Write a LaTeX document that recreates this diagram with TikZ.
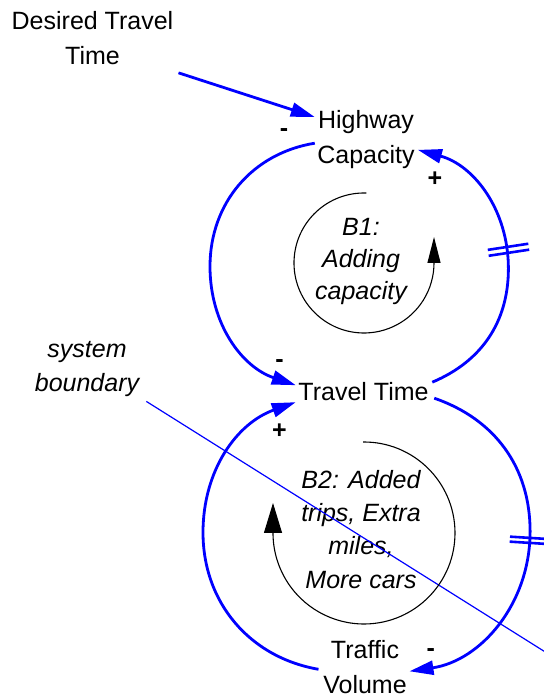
\documentclass[tikz,border=0pt]{standalone}
\usepackage{fontspec}
\setmainfont{Liberation Sans}
\usetikzlibrary{arrows.meta,calc}
\definecolor{linkblue}{RGB}{0,0,255}
\begin{document}
\begin{tikzpicture}[x=1pt,y=1pt,
  var/.style={inner sep=0pt, anchor=north, align=center,
    font=\fontsize{25}{34.5}\selectfont},
  loopnote/.style={inner sep=0pt, anchor=north, align=center,
    font=\fontsize{25}{#1}\selectfont\itshape},
  sign/.style={inner sep=0pt, font=\fontsize{25}{30}\selectfont\bfseries},
  link/.style={color=linkblue, line width=2.8pt,
    -{Triangle[length=24pt,width=14pt]}},
  delay/.style={draw=linkblue, line width=2.6pt},
  boundary/.style={draw=linkblue, line width=1.2pt},
  loopline/.style={draw=black, line width=1.1pt}]
\useasboundingbox (0,0) rectangle (543,698);

% variables
\node[var] (dtt) at (92.5,692.55) {\strut Desired Travel\\Time\strut};
\node[var] (hc)  at (366,593.35)  {\strut Highway\\Capacity\strut};
\node[var] (tt)  at (363.5,322.15){\strut Travel Time\strut};
\node[var] (tv)  at (365,63.65)   {\strut Traffic\\Volume};
\node[loopnote=34.5] (sb) at (87,365.15) {\strut system\\boundary\strut};

% loop identifiers
\node[loopnote=32]   (b1) at (361,485.4) {\strut B1:\\Adding\\capacity\strut};
\node[loopnote=33.3] (b2) at (361,233.3) {\strut B2: Added\\trips, Extra\\miles,\\More cars\strut};

% polarity signs
\node[sign] (s1) at (284,565)     {-};
\node[sign] (s2) at (435,519)     {+};
\node[sign] (s3) at (279.5,334.5) {-};
\node[sign] (s4) at (279.3,266.5) {+};
\node[sign] (s5) at (430.7,45.7)  {-};

% goal feeding capacity
\draw[link] ($(dtt.south east)+(5,2)$) -- ($(hc.north west)+(-2.4,-12.4)$);

% B1 loop
\coordinate (l1w) at (210,431.5);
\coordinate (l1e) at (508.4,429.5);
\draw[link] ($(hc.west)+(-2.4,-3.85)$) to[out=189.2,in=90] (l1w)
  to[out=270,in=161.3] ($(tt.west)+(-2.5,8.1)$);
\draw[link] ($(tt.east)+(3.5,11.1)$) to[out=22.8,in=270] (l1e)
  to[out=90,in=344.7] ($(hc.east)+(3.1,-10.55)$);

% B2 loop
\coordinate (l2w) at (203,165.5);
\coordinate (l2e) at (530.1,166.5);
\draw[link] ($(tv.west)+(-4.6,-5.3)$) to[out=170.2,in=270] (l2w)
  to[out=90,in=199.6] ($(tt.west)+(-2.5,-8.9)$);
\draw[link] ($(tt.east)+(5.5,-4.9)$) to[out=-19,in=90] (l2e)
  to[out=270,in=8.5] ($(tv.east)+(2.6,-7.3)$);

% delay marks
\coordinate (d1) at (507,448);
\coordinate (d2) at (529.8,157.6);
\begin{scope}[shift={(d1)},rotate=8.6]
  \draw[delay] (-19,3) -- (22,3) (-19,-3) -- (22,-3);
\end{scope}
\begin{scope}[shift={(d2)},rotate=-3.6]
  \draw[delay] (-20,2.5) -- (20,2.5) (-20,-2.5) -- (20,-2.5);
\end{scope}

% system boundary
\coordinate (sbend) at (551,42.4);
\draw[boundary] ($(sb.south east)+(7,0.85)$) -- (sbend);

% loop direction arrows
\coordinate (b1c) at (364,435);
\coordinate (b2c) at (364,165);
\draw[loopline,-{Triangle[length=26pt,width=13pt]}]
  ($(b1c)+(88:70)$) arc[start angle=88,end angle=360,radius=70] -- ++(0,26);
\draw[loopline,-{Triangle[length=30pt,width=18pt]}]
  ($(b2c)+(90.6:91)$) arc[start angle=90.6,end angle=-180,radius=91] -- ++(0,30);
\end{tikzpicture}
\end{document}
